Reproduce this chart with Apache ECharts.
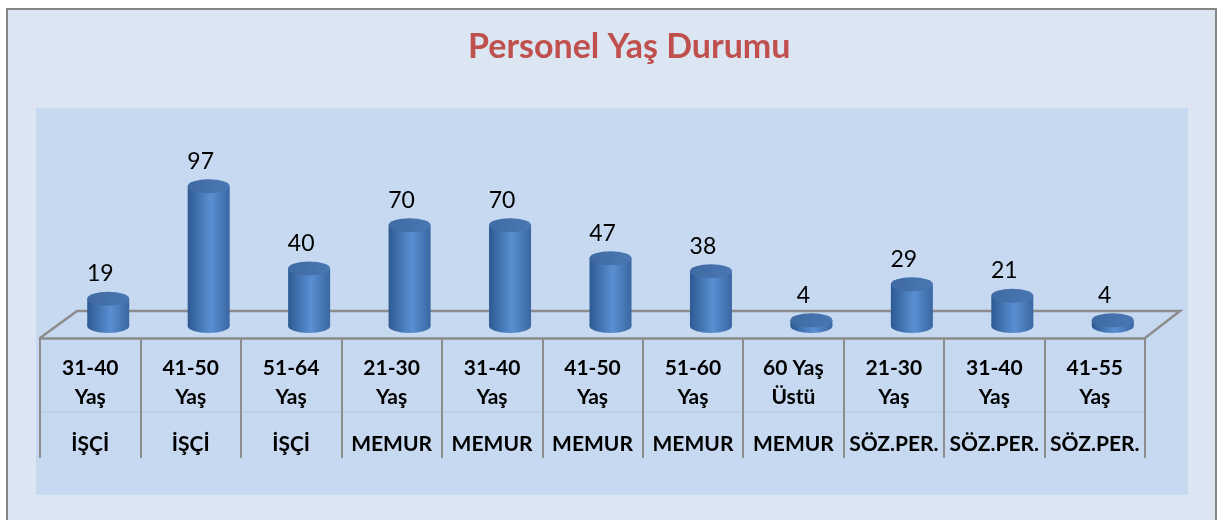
<!DOCTYPE html>
<html lang="tr">
<head>
  <meta charset="UTF-8">
  <title>Personel Yaş Durumu</title>
  <style>
    html, body { margin: 0; padding: 0; background: #fff; }
    #main { width: 1217px; height: 520px; }
  </style>
</head>
<body>
  <div id="main"></div>
  <script src="https://cdn.jsdelivr.net/npm/echarts@6/dist/echarts.min.js"></script>
  <script>
    // veriler
    const ageGroups = ['31-40\nYaş', '41-50\nYaş', '51-64\nYaş', '21-30\nYaş', '31-40\nYaş', '41-50\nYaş',
      '51-60\nYaş', '60 Yaş\nÜstü', '21-30\nYaş', '31-40\nYaş', '41-55\nYaş']
    const staffTypes = ['İŞÇİ', 'İŞÇİ', 'İŞÇİ', 'MEMUR', 'MEMUR', 'MEMUR', 'MEMUR', 'MEMUR', 'SÖZ.PER.', 'SÖZ.PER.', 'SÖZ.PER.']
    const counts = [19, 97, 40, 70, 70, 47, 38, 4, 29, 21, 4]

    const categories = ageGroups.map((a, i) => i)

    const DEPTH_X = 36, DEPTH_Y = 27   // zemin derinliği
    const FRONT = 12                   // ön kenar, taban çizgisinin altında
    const RX = 21, RY = 7

    const bodyFill = new echarts.graphic.LinearGradient(0, 0, 1, 0, [
      { offset: 0, color: '#2d5a93' },
      { offset: 0.55, color: '#5a8fd2' },
      { offset: 1, color: '#3a67a2' }
    ])
    const topFill = new echarts.graphic.LinearGradient(0, 0, 1, 0, [
      { offset: 0, color: '#3f6aa3' },
      { offset: 1, color: '#4a77b3' }
    ])

    function renderCylinder(params, api) {
      const idx = api.value(0)
      const val = api.value(1)
      const base = api.coord([idx, 0])
      const top = api.coord([idx, val])
      const cx = base[0] + DEPTH_X / 2
      return {
        type: 'group',
        children: [
          { type: 'circle', shape: { cx: 0, cy: 0, r: RX }, x: cx, y: base[1], scaleY: RY / RX,
            style: { fill: bodyFill } },
          { type: 'rect', shape: { x: cx - RX, y: top[1], width: RX * 2, height: base[1] - top[1] },
            style: { fill: bodyFill } },
          { type: 'circle', shape: { cx: 0, cy: 0, r: RX }, x: cx, y: top[1], scaleY: RY / RX,
            style: { fill: topFill } },
          { type: 'text', x: cx - 8, y: top[1] - 25,
            style: { text: String(val), fill: '#000', font: '23px Lato', align: 'center', verticalAlign: 'middle' } }
        ]
      }
    }

    function renderFloor(params, api) {
      const bw = api.size([1, 0])[0]
      const first = api.coord([0, 0])
      const last = api.coord([categories.length - 1, 0])
      const left = first[0] - bw / 2
      const right = last[0] + bw / 2
      const fy = first[1] + FRONT
      const by = fy - DEPTH_Y
      return {
        type: 'group',
        children: [
          { type: 'polyline', shape: { points: [[left, fy], [left + DEPTH_X + 1, by], [right + DEPTH_X - 1, by], [right, fy]] },
            style: { stroke: '#8c8c8c', lineWidth: 2.5, fill: null } },
          { type: 'line', shape: { x1: left, y1: fy + 74, x2: right, y2: fy + 74 },
            style: { stroke: 'rgba(150,165,190,0.35)', lineWidth: 1 } }
        ]
      }
    }

    const myChart = echarts.init(document.getElementById('main'))
    const option = {
      backgroundColor: '#fff',
      animation: false,
      graphic: [
        { type: 'rect', z: -10, shape: { x: 7, y: 9, width: 1209, height: 530 },
          style: { fill: '#dce6f2', stroke: '#858585', lineWidth: 2 } },
        { type: 'rect', z: -9, shape: { x: 36, y: 108, width: 1152, height: 387 },
          style: { fill: '#c6d9f1' } }
      ],
      title: {
        text: 'Personel Yaş Durumu',
        left: 463,
        top: 25,
        textStyle: { color: '#c0504d', fontSize: 34, fontWeight: 'bold', fontFamily: 'Lato' }
      },
      grid: { left: 40, right: 72, top: 110, bottom: 194, outerBoundsMode: 'none' },
      xAxis: {
        type: 'category',
        data: categories,
        offset: FRONT,
        axisLine: { onZero: false, lineStyle: { color: '#8c8c8c', width: 2.5 } },
        axisTick: { show: true, interval: 0, length: 120, lineStyle: { color: '#8c8c8c', width: 2 } },
        axisLabel: {
          interval: 0,
          margin: 16,
          formatter: function (v, i) {
            const [a, b] = ageGroups[i].split('\n')
            return '{a|' + a + '}\n{a|' + b + '}\n{b|' + staffTypes[i] + '}'
          },
          rich: {
            a: { fontFamily: 'Lato', fontWeight: 'bold', fontSize: 21, color: '#000', lineHeight: 29 },
            b: { fontFamily: 'Lato', fontWeight: 'bold', fontSize: 21, color: '#000', lineHeight: 64 }
          }
        }
      },
      yAxis: { type: 'value', min: 0, max: 150, show: false, splitLine: { show: false } },
      series: [
        { type: 'custom', z: 1, renderItem: renderFloor, data: [[0, 0]], silent: true },
        { type: 'custom', z: 2, renderItem: renderCylinder, data: counts.map((c, i) => [i, c]) }
      ]
    }
    myChart.setOption(option)
  </script>
</body>
</html>
